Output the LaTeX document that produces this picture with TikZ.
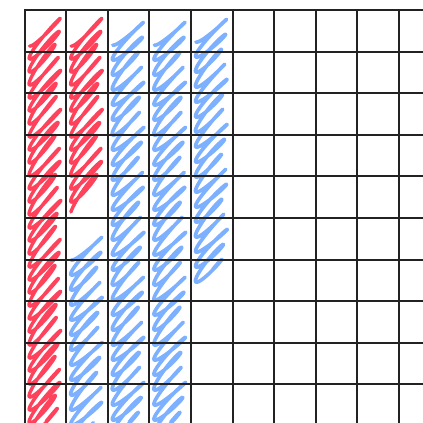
\documentclass[tikz,border=0pt]{standalone}
\usepackage{tikz}
\usepackage{xcolor}
\definecolor{scribred}{HTML}{FF2E4A}
\definecolor{scribblue}{HTML}{6FA8FF}
\definecolor{gridgray}{HTML}{222222}
\tikzstyle{gridline} = [line width=2pt, draw=gridgray, line cap=rect]
\tikzstyle{redscribble} = [line width=3.4pt, draw=scribred, opacity=0.9, line join=round, line cap=round]
\tikzstyle{bluescribble} = [line width=3.6pt, draw=scribblue, opacity=0.9, line join=round, line cap=round]
% one column of zigzag shading: style, left edge, top, bottom, step, stroke height
\newcommand{\zigzag}[6]{%
  \pgfmathsetmacro{\zzn}{(#4-#3-#6)/#5}
  \pgfmathtruncatemacro{\zzs}{16*\zzn+1}
  \draw[#1] plot[domain=0:\zzn, samples=\zzs, variable=\t]
    ({#2+5+(28+3*sin(53*\t))*(1-cos(180*\t))/2+3.5*sin(180*\t)},
     {#3+#6+#5*\t-#6*(1-cos(180*\t))/2});
}

\begin{document}
\begin{tikzpicture}[x=1pt, y=-1pt]
    \useasboundingbox (0,0) rectangle (423,423);
    \clip (0,0) rectangle (423,423);

    % shaded cells
    \zigzag{redscribble}{24.5}{12}{445}{6.5}{34}
    \zigzag{redscribble}{66.1}{12}{214}{6.5}{34}
    \zigzag{bluescribble}{66.1}{230}{445}{7.5}{30}
    \zigzag{bluescribble}{107.7}{15}{445}{7.5}{30}
    \zigzag{bluescribble}{149.3}{15}{445}{7.5}{30}
    \zigzag{bluescribble}{190.9}{12}{292}{7.5}{30}

    % grid
    \foreach \k in {0,...,9} {
        \draw[gridline] (24.5+41.6*\k, 10) -- (24.5+41.6*\k, 430);
        \draw[gridline] (24.5, 10+41.6*\k) -- (430, 10+41.6*\k);
    }
\end{tikzpicture}
\end{document}
